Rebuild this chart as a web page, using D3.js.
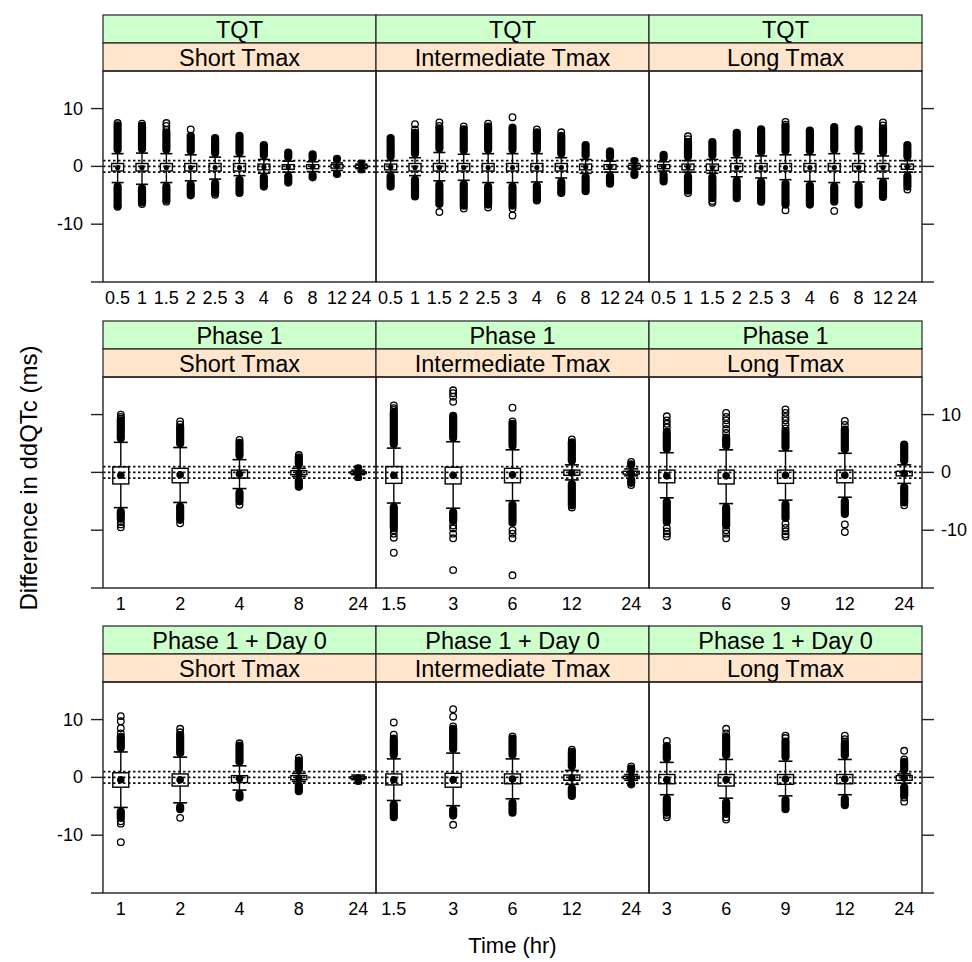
<!DOCTYPE html>
<html><head><meta charset="utf-8">
<script src="https://cdn.jsdelivr.net/npm/d3@7"></script>
<style>body{margin:0;background:#fff}svg{display:block}</style>
</head><body>
<svg id="chart" width="972" height="962"></svg>
<script>
// ---------------- DATA ----------------
const rowNames = ["TQT", "Phase 1", "Phase 1 + Day 0"];
const colNames = ["Short Tmax", "Intermediate Tmax", "Long Tmax"];
const timesTQT = ["0.5","1","1.5","2","2.5","3","4","6","8","12","24"];
const timesShort = ["1","2","4","8","24"];
const timesInter = ["1.5","3","6","12","24"];
const timesLong = ["3","6","9","12","24"];
const yTicks = [10, 0, -10, -20];
const yTickLabels = ["10", "0", "-10", ""];
const refLines = [-1, 0, 1];
const xTitle = "Time (hr)";
const yTitle = "Difference in ddQTc (ms)";

// per box: [lowest dense outlier, lower whisker, q1, median, q3, upper whisker, highest dense outlier]
const statsTQTShort = [
  [-6.8,-2.8,-0.8,-0.2,0.5,2.2,7.1],
  [-6.2,-3.1,-0.8,-0.2,0.5,2.3,7.0],
  [-5.8,-2.8,-0.8,-0.2,0.5,2.2,5.8],
  [-5.0,-2.5,-0.8,-0.2,0.5,2.0,5.3],
  [-4.6,-2.2,-0.8,-0.2,0.5,1.6,4.9],
  [-4.6,-1.6,-0.8,-0.2,0.5,1.7,5.3],
  [-3.5,-1.2,-0.6,-0.1,0.4,1.2,3.7],
  [-2.8,-1.0,-0.5,-0.1,0.3,0.9,2.4],
  [-1.9,-0.9,-0.4,-0.1,0.3,0.8,2.1],
  [-1.3,-0.7,-0.3,0.0,0.3,0.6,1.3],
  [-0.5,-0.4,-0.2,0.0,0.2,0.4,0.5]
];
const statsTQTInter = [
  [-3.5,-1.0,-0.6,-0.1,0.4,1.0,4.9],
  [-5.2,-1.6,-0.8,-0.2,0.5,1.5,5.8],
  [-6.5,-2.5,-0.8,-0.2,0.5,2.4,6.6],
  [-6.8,-2.4,-0.8,-0.2,0.5,2.1,6.4],
  [-6.6,-2.8,-0.8,-0.2,0.5,2.2,6.9],
  [-6.8,-2.8,-0.8,-0.2,0.5,2.2,6.7],
  [-5.9,-2.7,-0.8,-0.2,0.5,2.2,5.9],
  [-4.6,-2.0,-0.8,-0.2,0.5,1.5,5.3],
  [-4.3,-1.2,-0.6,-0.1,0.4,1.2,3.7],
  [-3.0,-1.0,-0.5,-0.1,0.3,0.9,2.6],
  [-1.5,-0.5,-0.3,0.0,0.2,0.5,0.9]
];
const statsTQTLong = [
  [-2.6,-0.8,-0.4,-0.1,0.3,0.8,2.0],
  [-4.2,-1.0,-0.6,-0.1,0.4,1.0,4.2],
  [-5.5,-1.2,-0.7,-0.2,0.4,1.2,4.2],
  [-5.5,-1.8,-0.8,-0.2,0.5,1.5,5.8],
  [-6.1,-2.0,-0.8,-0.2,0.5,1.8,6.4],
  [-6.6,-2.3,-0.8,-0.2,0.5,2.0,6.9],
  [-6.6,-2.6,-0.8,-0.2,0.5,2.0,6.2],
  [-6.1,-2.8,-0.8,-0.2,0.5,2.2,6.8],
  [-6.6,-2.7,-0.8,-0.2,0.5,2.2,6.4],
  [-5.3,-2.1,-0.8,-0.2,0.5,1.8,6.6],
  [-3.5,-1.0,-0.5,-0.1,0.4,1.0,3.7]
];
const statsP1Short = [
  [-8.0,-6.1,-2.0,-0.5,0.95,5.2,9.0],
  [-8.2,-5.2,-1.8,-0.4,0.7,4.3,7.8],
  [-5.0,-2.8,-1.0,-0.3,0.4,2.2,5.1],
  [-2.5,-0.7,-0.4,-0.1,0.3,0.7,2.6],
  [-0.8,-0.4,-0.2,-0.1,0.1,0.4,0.7]
];
const statsP1Inter = [
  [-9.6,-5.3,-1.9,-0.5,1.0,4.2,10.3],
  [-8.4,-6.2,-2.0,-0.5,0.9,5.3,9.8],
  [-8.7,-4.9,-1.8,-0.4,0.7,3.9,8.4],
  [-5.7,-1.3,-0.5,-0.1,0.4,1.3,5.2],
  [-1.8,-0.6,-0.3,-0.1,0.2,0.6,1.4]
];
const statsP1Long = [
  [-8.6,-4.4,-1.8,-0.6,0.4,3.4,7.0],
  [-9.2,-5.4,-2.0,-0.6,0.4,3.9,6.0],
  [-7.9,-4.8,-1.9,-0.5,0.4,3.7,7.0],
  [-7.2,-4.3,-1.8,-0.5,0.4,3.3,7.4],
  [-5.2,-1.9,-0.6,-0.2,0.2,1.3,4.8]
];
const statsD0Short = [
  [-7.0,-5.2,-1.7,-0.4,0.8,4.4,7.0],
  [-5.5,-4.4,-1.5,-0.4,0.6,3.5,7.3],
  [-3.5,-2.2,-0.9,-0.2,0.3,2.0,5.5],
  [-2.4,-0.7,-0.4,-0.1,0.3,0.7,2.9],
  [-0.6,-0.4,-0.2,-0.1,0.1,0.4,0.4]
];
const statsD0Inter = [
  [-6.9,-4.0,-1.3,-0.4,0.6,3.2,6.7],
  [-6.6,-4.9,-1.7,-0.4,0.7,4.2,8.4],
  [-6.1,-3.7,-1.1,-0.3,0.6,3.2,6.7],
  [-3.2,-1.2,-0.5,-0.1,0.4,1.2,4.4],
  [-1.2,-0.5,-0.2,-0.1,0.2,0.5,1.5]
];
const statsD0Long = [
  [-6.1,-3.0,-1.1,-0.4,0.5,2.6,5.4],
  [-6.3,-3.6,-1.5,-0.4,0.5,3.1,7.0],
  [-5.5,-3.2,-1.2,-0.3,0.5,2.8,6.2],
  [-4.8,-3.0,-1.1,-0.3,0.5,3.1,5.8],
  [-3.1,-1.0,-0.5,-0.1,0.3,0.6,2.7]
];

// isolated outliers: [category index, value]
const outTQTShort = [[0,7.5],[0,-7.0],[1,7.4],[1,-6.5],[2,6.3],[2,7.0],[2,7.5],[2,-6.1],[3,6.4],[4,-4.9]];
const outTQTInter = [[1,7.3],[1,6.4],[2,7.6],[2,7.0],[2,-7.9],[3,6.9],[3,-7.3],[4,7.4],[4,-7.1],[5,8.5],[5,-7.3],[5,-8.5],[6,6.4],[7,5.9]];
const outTQTLong = [[1,5.2],[1,4.7],[1,-4.6],[2,-6.0],[2,-6.3],[5,7.7],[5,7.2],[5,-7.6],[7,-7.7],[9,7.6],[9,7.1],[10,-4.0]];
const outP1Short = [[0,9.3],[0,9.6],[0,10.0],[0,-8.6],[0,-9.0],[0,-9.5],[1,8.3],[1,8.8],[1,-8.8],[2,5.6],[2,-5.6],[3,3.0]];
const outP1Inter = [[0,10.8],[0,11.1],[0,11.6],[0,-10.0],[0,-10.6],[0,-11.3],[0,-13.9],
  [1,12.2],[1,13.1],[1,13.7],[1,14.2],[1,-9.2],[1,-9.7],[1,-10.6],[1,-11.4],[1,-16.9],
  [2,8.8],[2,11.2],[2,-10.0],[2,-10.6],[2,-11.4],[2,-17.8],[3,5.7],[3,-6.1],[4,1.8],[4,-2.2]];
const outP1Long = [[0,7.8],[0,8.4],[0,9.0],[0,9.7],[0,-9.6],[0,-10.2],[0,-10.6],[0,-11.1],
  [1,6.8],[1,7.5],[1,8.3],[1,9.0],[1,9.6],[1,10.3],[1,-10.0],[1,-10.6],[1,-11.4],
  [2,7.6],[2,8.3],[2,9.0],[2,9.6],[2,10.3],[2,10.9],[2,-8.9],[2,-9.6],[2,-10.2],[2,-10.7],[2,-11.1],
  [3,8.2],[3,8.9],[3,-9.0],[3,-10.3],[4,-5.7]];
const outD0Short = [[0,7.6],[0,8.5],[0,9.7],[0,10.6],[0,-7.6],[0,-8.0],[0,-11.2],[1,7.8],[1,8.4],[1,-7.0],[2,5.9],[3,3.4]];
const outD0Inter = [[0,7.4],[0,9.5],[1,8.8],[1,10.5],[1,11.8],[1,-8.2],[2,7.1],[3,4.8],[4,1.9]];
const outD0Long = [[0,6.3],[0,-6.5],[0,-6.9],[1,7.6],[1,8.4],[1,-6.9],[1,-7.3],[2,6.8],[2,7.2],[3,6.2],[3,6.6],[3,7.2],[4,3.1],[4,4.6],[4,-3.5],[4,-4.2]];

const panelTimes = [[timesTQT,timesTQT,timesTQT],[timesShort,timesInter,timesLong],[timesShort,timesInter,timesLong]];
const panelStats = [[statsTQTShort,statsTQTInter,statsTQTLong],[statsP1Short,statsP1Inter,statsP1Long],[statsD0Short,statsD0Inter,statsD0Long]];
const panelOuts = [[outTQTShort,outTQTInter,outTQTLong],[outP1Short,outP1Inter,outP1Long],[outD0Short,outD0Inter,outD0Long]];

// ---------------- LAYOUT ----------------
const svg = d3.select("#chart");
const font = "'Liberation Sans', Arial, Helvetica, sans-serif";
const left = 103, panelW = 273, panelH = 211, stripH = 28;
const panelTops = [71, 377, 682];
const rowPad = [0.6, 0.3, 0.3];
const boxW = [12, 16, 16], capW = [12, 14, 14];
const R = 3.3;
const tickFont = 18, stripFont = 23.5;

const y = d3.scaleLinear().domain([-20, 16.5]).range([panelH, 0]);

for (let r = 0; r < 3; r++) {
  const top = panelTops[r];
  for (let c = 0; c < 3; c++) {
    const x0 = left + c * panelW;
    // strips
    const sg = svg.append("g").attr("transform", `translate(${x0},${top - 2*stripH})`);
    sg.append("rect").attr("width", panelW).attr("height", stripH).attr("fill", "#ccffcc").attr("stroke", "#222").attr("stroke-width", 1.2);
    sg.append("rect").attr("y", stripH).attr("width", panelW).attr("height", stripH).attr("fill", "#ffe5cc").attr("stroke", "#222").attr("stroke-width", 1.2);
    sg.append("text").attr("x", panelW/2).attr("y", stripH/2 + 1).attr("text-anchor","middle").attr("dominant-baseline","central")
      .attr("font-family", font).attr("font-size", stripFont).text(rowNames[r]);
    sg.append("text").attr("x", panelW/2).attr("y", stripH*1.5 + 1).attr("text-anchor","middle").attr("dominant-baseline","central")
      .attr("font-family", font).attr("font-size", stripFont).text(colNames[c]);

    const g = svg.append("g").attr("transform", `translate(${x0},${top})`);
    const x = d3.scalePoint().domain(panelTimes[r][c]).range([0, panelW]).padding(rowPad[r]);
    const times = panelTimes[r][c];

    // reference lines
    g.selectAll("line.ref").data(refLines).join("line").attr("class","ref")
      .attr("x1", 0).attr("x2", panelW).attr("y1", d => y(d)).attr("y2", d => y(d))
      .attr("stroke", "#111").attr("stroke-width", 1.7).attr("stroke-dasharray", "2.5,2.5");

    const stats = panelStats[r][c];
    const bw = boxW[r], cw = capW[r];
    stats.forEach((s, i) => {
      const cx = x(times[i]);
      const [lo, lw, q1, med, q3, hw, hi] = s;
      // dense outlier runs (overlapping circles)
      if (hi > hw) g.append("rect").attr("x", cx - R - 0.8).attr("width", 2*R + 1.6)
        .attr("y", y(hi) - R - 0.8).attr("height", y(hw) - y(hi) + R + 0.8).attr("rx", R + 0.8).attr("fill", "#000");
      if (lo < lw) g.append("rect").attr("x", cx - R - 0.8).attr("width", 2*R + 1.6)
        .attr("y", y(lw)).attr("height", y(lo) - y(lw) + R + 0.8).attr("rx", R + 0.8).attr("fill", "#000");
      // whiskers
      g.append("line").attr("x1", cx).attr("x2", cx).attr("y1", y(q3)).attr("y2", y(hw)).attr("stroke","#000").attr("stroke-width",1.4);
      g.append("line").attr("x1", cx).attr("x2", cx).attr("y1", y(q1)).attr("y2", y(lw)).attr("stroke","#000").attr("stroke-width",1.4);
      g.append("line").attr("x1", cx - cw/2).attr("x2", cx + cw/2).attr("y1", y(hw)).attr("y2", y(hw)).attr("stroke","#000").attr("stroke-width",1.6);
      g.append("line").attr("x1", cx - cw/2).attr("x2", cx + cw/2).attr("y1", y(lw)).attr("y2", y(lw)).attr("stroke","#000").attr("stroke-width",1.6);
      // box
      g.append("rect").attr("x", cx - bw/2).attr("width", bw).attr("y", y(q3)).attr("height", y(q1) - y(q3))
        .attr("fill", "none").attr("stroke", "#000").attr("stroke-width", 1.4);
      // median dot
      g.append("circle").attr("cx", cx).attr("cy", y(med)).attr("r", r === 0 ? 2.6 : 3.8).attr("fill", "#000");
    });
    // isolated outliers
    g.selectAll("circle.out").data(panelOuts[r][c]).join("circle").attr("class","out")
      .attr("cx", d => x(times[d[0]])).attr("cy", d => y(d[1])).attr("r", R)
      .attr("fill", "none").attr("stroke", "#000").attr("stroke-width", 1.3);

    // panel border
    g.append("rect").attr("width", panelW).attr("height", panelH).attr("fill","none").attr("stroke","#222").attr("stroke-width",1.4);

    // x labels
    g.selectAll("text.xl").data(times).join("text").attr("class","xl")
      .attr("x", d => x(d)).attr("y", panelH + 16).attr("text-anchor","middle").attr("dominant-baseline","central")
      .attr("font-family", font).attr("font-size", tickFont).text(d => d);
  }
  // y ticks both sides
  const ga = svg.append("g").attr("transform", `translate(0,${top})`);
  const xr = left + 3*panelW;
  yTicks.forEach((t, k) => {
    ga.append("line").attr("x1", left - 12).attr("x2", left).attr("y1", y(t)).attr("y2", y(t)).attr("stroke","#222").attr("stroke-width",1.4);
    ga.append("line").attr("x1", xr).attr("x2", xr + 12).attr("y1", y(t)).attr("y2", y(t)).attr("stroke","#222").attr("stroke-width",1.4);
    if (r === 1) {
      ga.append("text").attr("x", xr + 19).attr("y", y(t)).attr("dominant-baseline","central").attr("text-anchor","start")
        .attr("font-family", font).attr("font-size", tickFont).text(yTickLabels[k]);
    } else {
      ga.append("text").attr("x", left - 20).attr("y", y(t)).attr("dominant-baseline","central").attr("text-anchor","end")
        .attr("font-family", font).attr("font-size", tickFont).text(yTickLabels[k]);
    }
  });
}

// titles
svg.append("text").attr("x", left + 1.5*panelW).attr("y", 945).attr("text-anchor","middle").attr("dominant-baseline","central")
  .attr("font-family", font).attr("font-size", 22).text(xTitle);
svg.append("text").attr("transform", "translate(28,478) rotate(-90)").attr("text-anchor","middle").attr("dominant-baseline","central")
  .attr("font-family", font).attr("font-size", 24).text(yTitle);
</script>
</body></html>
